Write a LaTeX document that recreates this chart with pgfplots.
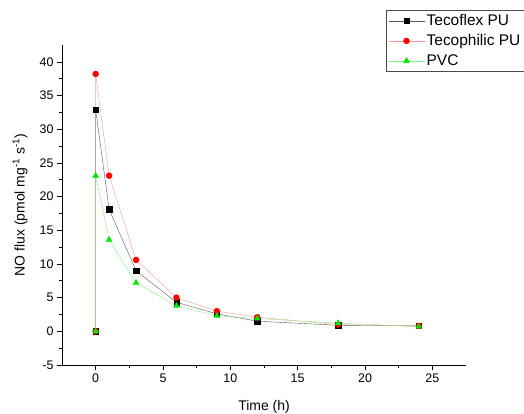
\documentclass[border=0pt]{standalone}
\usepackage{fontspec}
\setmainfont{Liberation Sans}
\usepackage{pgfplots}
\pgfplotsset{compat=1.18}

\definecolor{pvcgreen}{RGB}{0,230,0}

\begin{document}
\begin{tikzpicture}
\path[use as bounding box] (-62bp,-49bp) rectangle (462bp,365bp);
\begin{axis}[
  at={(0,0)}, anchor=south west,
  scale only axis, width=404bp, height=320bp,
  axis lines=left, axis line style={-, line width=0.8pt},
  xmin=-2.5, xmax=27.5, ymin=-5, ymax=42.5,
  xtick={0,5,...,25}, ytick={-5,0,...,40},
  minor x tick num=1, minor y tick num=1,
  tick align=outside,
  major tick length=5bp, minor tick length=3bp,
  tick style={line width=0.6pt, black},
  /pgf/number format/assume math mode=true,
  tick label style={font=\fontsize{12.5}{14}\selectfont},
  xlabel={Time (h)}, ylabel={NO flux (pmol mg\textsuperscript{-1} s\textsuperscript{-1})},
  label style={font=\fontsize{14}{16}\selectfont},
  xlabel style={at={(axis description cs:0.5,0)}, anchor=south, yshift=-52bp},
  ylabel style={at={(axis description cs:0,0.5)}, anchor=south, yshift=31bp},
  legend style={at={(rel axis cs:0.802,1.109)}, anchor=north west,
    draw=black!70, line width=0.6pt, font=\fontsize{15.5}{17}\selectfont,
    inner xsep=2bp, inner ysep=2bp, row sep=3.5bp, cells={anchor=west}},
  legend image code/.code={
    \draw[#1, mark repeat=2, mark phase=2] plot coordinates {(0bp,0bp) (18bp,0bp) (36bp,0bp)};},
  legend cell align=left,
  clip=false,
]
\addplot[black!65, line width=0.4pt, mark=square*, mark size=2.7bp, mark options={black}]
  coordinates {(0,0) (0,32.9) (1,18.1) (3,9.0) (6,4.3) (9,2.6) (12,1.5) (18,0.9) (24,0.8)};
\addlegendentry{Tecoflex PU}
\addplot[red!40, line width=0.4pt, mark=*, mark size=3bp, mark options={red}]
  coordinates {(0,0) (0,38.2) (1,23.1) (3,10.6) (6,5.0) (9,3.0) (12,2.1) (18,1.0) (24,0.8)};
\addlegendentry{Tecophilic PU}
\addplot[pvcgreen!50, line width=0.4pt, mark=triangle*, mark size=3.4bp, mark options={pvcgreen}]
  coordinates {(0,0) (0,23.1) (1,13.6) (3,7.2) (6,3.8) (9,2.3) (12,1.9) (18,1.2) (24,0.7)};
\addlegendentry{PVC}
\end{axis}
\end{tikzpicture}
\end{document}
